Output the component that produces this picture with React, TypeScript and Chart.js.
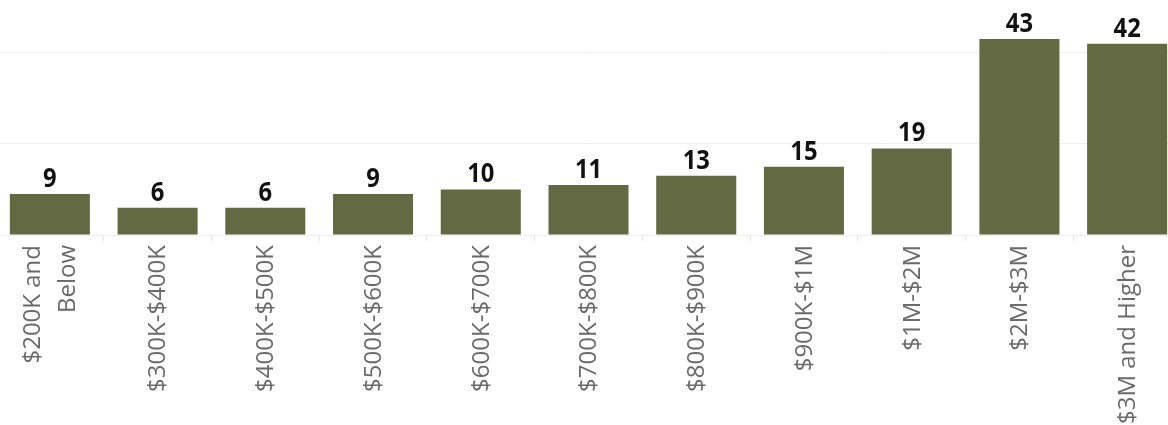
import React, { useEffect, useRef } from "react";
import { Chart, registerables } from "chart.js";

Chart.register(...registerables);

const categories: (string | string[])[] = [
  ["$200K and", "Below"],
  "$300K-$400K",
  "$400K-$500K",
  "$500K-$600K",
  "$600K-$700K",
  "$700K-$800K",
  "$800K-$900K",
  "$900K-$1M",
  "$1M-$2M",
  "$2M-$3M",
  "$3M and Higher",
];
const values: number[] = [9, 6, 6, 9, 10, 11, 13, 15, 19, 43, 42];

const BAR_COLOR = "#636A43";
const LABEL_FONT = "24px 'Open Sans', sans-serif";
const LINE_GAP = 35;

const valueLabelPlugin = {
  id: "valueLabels",
  afterDatasetsDraw(chart: any) {
    const ctx = chart.ctx;
    const meta = chart.getDatasetMeta(0);
    ctx.save();
    ctx.font = "bold 27px 'Open Sans', sans-serif";
    ctx.fillStyle = "#111111";
    ctx.textAlign = "center";
    ctx.textBaseline = "alphabetic";
    meta.data.forEach((bar: any, i: number) => {
      ctx.save();
      ctx.translate(bar.x, bar.y - 7);
      ctx.scale(0.88, 1);
      ctx.fillText(String(values[i]), 0, 0);
      ctx.restore();
    });
    ctx.restore();
  },
};

const xLabelPlugin = {
  id: "xLabels",
  afterDraw(chart: any) {
    const ctx = chart.ctx;
    const xs = chart.scales.x;
    const top = chart.chartArea.bottom + 10;
    ctx.save();
    ctx.font = LABEL_FONT;
    ctx.fillStyle = "#6a6a6a";
    ctx.textAlign = "right";
    ctx.textBaseline = "middle";
    categories.forEach((lab, i) => {
      const lines = Array.isArray(lab) ? lab : [lab];
      const cx = xs.getPixelForTick(i);
      lines.forEach((line, j) => {
        const off = (j - (lines.length - 1) / 2) * LINE_GAP;
        ctx.save();
        ctx.translate(cx + off + 1, top);
        ctx.rotate(-Math.PI / 2);
        ctx.fillText(line, 0, 0);
        ctx.restore();
      });
    });
    ctx.restore();
  },
};

export default function App() {
  const ref = useRef<HTMLCanvasElement | null>(null);
  useEffect(() => {
    if (!ref.current) return;
    const chart = new Chart(ref.current, {
      type: "bar",
      data: {
        labels: categories,
        datasets: [
          {
            data: values,
            backgroundColor: BAR_COLOR,
            barPercentage: 1,
            categoryPercentage: 0.743,
          },
        ],
      },
      options: {
        animation: false,
        responsive: false,
        maintainAspectRatio: false,
        layout: { padding: { top: 30, left: 0, right: 0, bottom: 0 } },
        plugins: {
          legend: { display: false },
          tooltip: { enabled: false },
        },
        scales: {
          x: {
            offset: true,
            afterFit: (scale: any) => {
              scale.height = 190;
            },
            grid: {
              offset: true,
              drawOnChartArea: false,
              drawTicks: true,
              tickLength: 6,
              color: "#e6e6e6",
            },
            border: { display: true, color: "#ececec" },
            ticks: {
              display: false,
              autoSkip: false,
            },
          },
          y: {
            display: true,
            min: 0,
            max: 45,
            ticks: { display: false, stepSize: 20 },
            border: { display: false },
            grid: {
              color: (c: any) => (c.tick && c.tick.value === 45 ? "rgba(0,0,0,0)" : "#eeeeee"),
              drawTicks: false,
            },
            afterFit: (scale: any) => {
              scale.width = 0;
            },
          },
        },
      },
      plugins: [valueLabelPlugin, xLabelPlugin],
    });
    return () => chart.destroy();
  }, []);

  return (
    <div
      style={{
        position: "fixed",
        left: 0,
        top: 0,
        width: 1168,
        height: 425,
        overflow: "hidden",
        background: "#fff",
      }}
    >
      <canvas
        ref={ref}
        width={1185}
        height={425}
        style={{ position: "absolute", left: -4, top: 0, width: 1185, height: 425 }}
      />
    </div>
  );
}
